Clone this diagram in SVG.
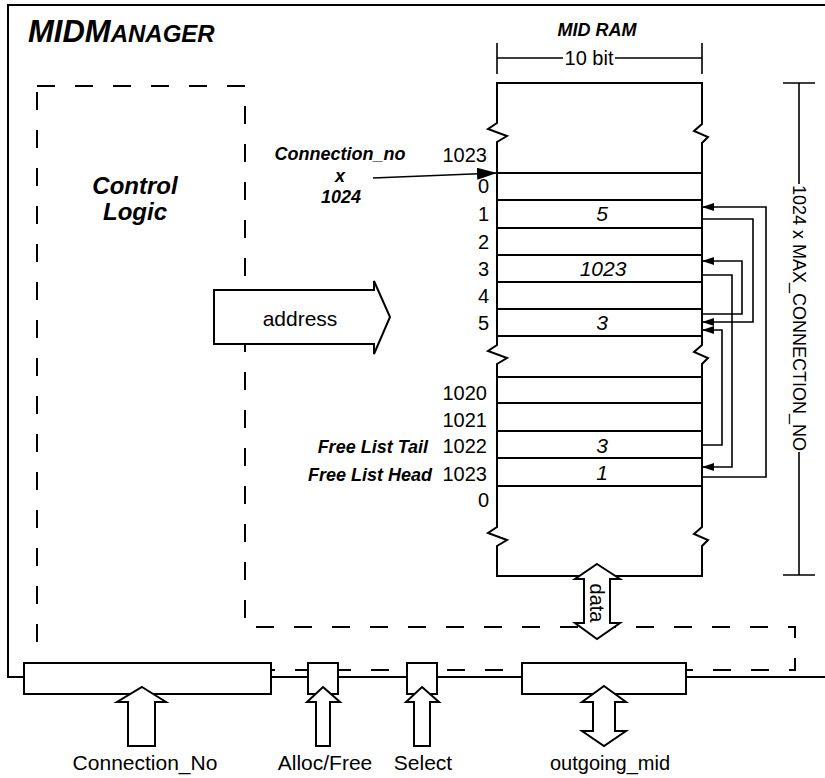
<svg xmlns="http://www.w3.org/2000/svg" width="825" height="778" viewBox="0 0 825 778">
<style>
text{font-family:"Liberation Sans",Arial,sans-serif;fill:#000}
.bi{font-weight:bold;font-style:italic}
.it{font-style:italic}
.ln{stroke:#000;stroke-width:2;fill:none}
.thin{stroke:#000;stroke-width:1.6;fill:none}
.box{stroke:#000;stroke-width:2;fill:#fff}
.dash{stroke:#000;stroke-width:2;fill:none;stroke-dasharray:18 20}
.lbl{font-size:20px;text-anchor:end}
.val{font-size:21px;text-anchor:middle}
</style>
<defs>
<marker id="ah" markerUnits="userSpaceOnUse" markerWidth="12" markerHeight="8" refX="12" refY="4" orient="auto">
<path d="M0,0 L12,4 L0,8 Z" fill="#000"/>
</marker>
<marker id="bigah" markerUnits="userSpaceOnUse" markerWidth="20" markerHeight="12" refX="20" refY="6" orient="auto">
<path d="M0,0 L20,6 L0,12 Z" fill="#000"/>
</marker>
</defs>
<rect width="825" height="778" fill="#fff"/>

<g id="frame">
<path class="ln" d="M825,5 H8 V677 H825"/>
<text class="bi" x="28" y="42" font-size="31">MIDM<tspan font-size="24">ANAGER</tspan></text>
</g>

<g id="control-logic">
<path class="dash" d="M37,86 H245 V627 H795 V670 H37 Z"/>
<text class="bi" x="135" y="194" font-size="24" text-anchor="middle">Control</text>
<text class="bi" x="135" y="220" font-size="24" text-anchor="middle">Logic</text>
</g>

<g id="address">
<path class="box" d="M214,290 H374 V281 L390,317 L374,354 V344 H214 Z"/>
<text x="300" y="326" font-size="21" text-anchor="middle">address</text>
</g>

<g id="mid-ram">
<text class="bi" x="597" y="36" font-size="18" text-anchor="middle">MID RAM</text>
<path class="thin" d="M497,43 V74 M702,43 V74 M497,58 H563 M615,58 H702"/>
<text x="589" y="65" font-size="20" text-anchor="middle">10 bit</text>
<path class="ln" d="M497,576 V546 L507,540 L488,533 L497,527 V364 L507,358 L488,351 L497,345 V142 L507,136 L488,129 L497,123 V83 H702 V124 L694,131 L708,137 L702,143 V345 L694,352 L708,358 L702,364 V527 L694,534 L708,540 L702,546 V576 Z"/>
<path class="ln" d="M497,173 H702 M497,200 H702 M497,228 H702 M497,255 H702 M497,282 H702 M497,309 H702 M497,336 H702 M497,377 H702 M497,403 H702 M497,431 H702 M497,458 H702 M497,486 H702"/>
<text class="lbl" x="487" y="162">1023</text>
<text class="lbl" x="489" y="193">0</text>
<text class="lbl" x="489" y="221">1</text>
<text class="lbl" x="489" y="249">2</text>
<text class="lbl" x="489" y="276">3</text>
<text class="lbl" x="489" y="303">4</text>
<text class="lbl" x="489" y="330">5</text>
<text class="lbl" x="487" y="400">1020</text>
<text class="lbl" x="487" y="427">1021</text>
<text class="lbl" x="487" y="453">1022</text>
<text class="lbl" x="487" y="481">1023</text>
<text class="lbl" x="489" y="507">0</text>
<text class="val it" x="602" y="221">5</text>
<text class="val it" x="603" y="276">1023</text>
<text class="val it" x="602" y="330">3</text>
<text class="val it" x="602" y="453">3</text>
<text class="val it" x="602" y="480">1</text>
<text class="bi" x="340" y="160" font-size="18" text-anchor="middle">Connection_no</text>
<text class="bi" x="340" y="182" font-size="18" text-anchor="middle">x</text>
<text class="bi" x="341" y="203" font-size="18" text-anchor="middle">1024</text>
<text class="bi" x="428" y="453" font-size="18" text-anchor="end">Free List Tail</text>
<text class="bi" x="432" y="481" font-size="18" text-anchor="end">Free List Head</text>
</g>

<g id="size-dimension">
<path class="thin" d="M783,83 H815 M783,575 H815 M799,83 V184 M799,452 V575"/>
<text transform="translate(799,318) rotate(90)" x="0" y="0" dy="0.35em" font-size="18" text-anchor="middle">1024 x MAX_CONNECTION_NO</text>
</g>

<g id="data-bus">
<path class="box" d="M597,564 L620,579 H610 V623 H620 L597,639 L575,623 H584 V579 H575 Z"/>
<text transform="translate(597,603) rotate(90)" x="0" y="0" dy="0.35em" font-size="20" text-anchor="middle">data</text>
</g>

<g id="port-connection-no">
<rect class="box" x="24" y="663" width="247" height="31"/>
<path class="box" d="M142,687 L166,702 H155 V746 H128 V702 H117 Z"/>
<text x="145" y="770" font-size="21" text-anchor="middle">Connection_No</text>
</g>

<g id="port-alloc-free">
<rect class="box" x="308" y="663" width="30" height="31"/>
<path class="box" d="M323,687 L340,702 H330 V746 H316 V702 H307 Z"/>
<text x="325" y="770" font-size="21" text-anchor="middle">Alloc/Free</text>
</g>

<g id="port-select">
<rect class="box" x="407" y="663" width="30" height="31"/>
<path class="box" d="M422,687 L439,702 H430 V746 H414 V702 H406 Z"/>
<text x="423" y="770" font-size="21" text-anchor="middle">Select</text>
</g>

<g id="port-outgoing-mid">
<rect class="box" x="522" y="663" width="164" height="31"/>
<path class="box" d="M604,686 L626,702 H615 V731 H626 L604,746 L582,731 H593 V702 H582 Z"/>
<text x="610" y="770" font-size="20" text-anchor="middle">outgoing_mid</text>
</g>

<g id="connectors">
<path class="thin" d="M373,178 L497,173" marker-end="url(#bigah)"/>
<path class="thin" d="M702,477 H766 V207 H702" marker-end="url(#ah)"/>
<path class="thin" d="M702,219 H753 V322 H702" marker-end="url(#ah)"/>
<path class="thin" d="M702,275 H732 V467 H702" marker-end="url(#ah)"/>
<path class="thin" d="M702,314 H742 V261 H702" marker-end="url(#ah)"/>
<path class="thin" d="M702,445 H722 V330 H702" marker-end="url(#ah)"/>
</g>
</svg>
